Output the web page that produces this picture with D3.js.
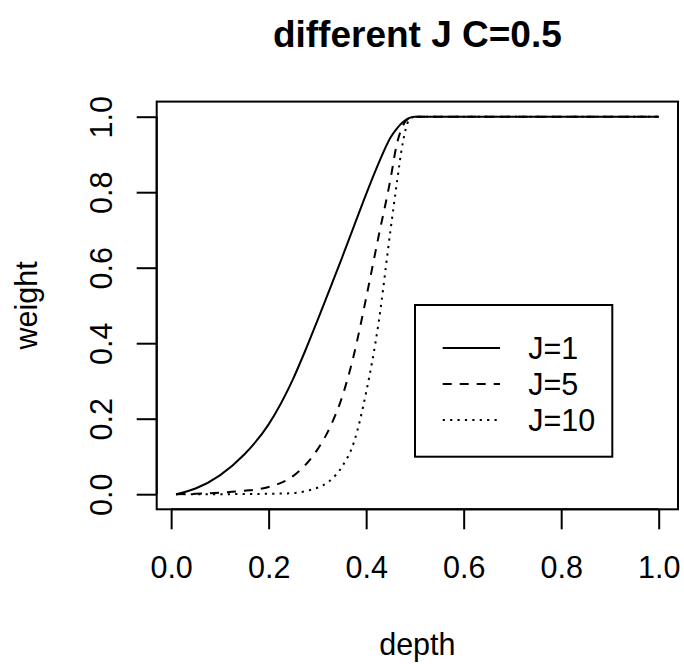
<!DOCTYPE html>
<html>
<head>
<meta charset="utf-8">
<script src="https://cdn.jsdelivr.net/npm/d3@7"></script>
<style>
  body { margin: 0; background: #fff; }
  svg text { font-family: "Liberation Sans", Arial, Helvetica, sans-serif; fill: #000; }
</style>
</head>
<body>
<div id="chart"></div>
<script>
const depth = [0.01, 0.05, 0.1, 0.15, 0.2, 0.25, 0.275, 0.3, 0.325, 0.35, 0.375,
               0.4, 0.425, 0.45, 0.4625, 0.475, 0.4875, 0.5, 0.75, 1.0];
const weightJ1  = [0, 0.015, 0.05, 0.105, 0.185, 0.305, 0.38, 0.46, 0.542, 0.625, 0.71,
                   0.795, 0.875, 0.945, 0.968, 0.985, 0.996, 1, 1, 1];
const weightJ5  = [0, 0.001, 0.004, 0.009, 0.019, 0.048, 0.077, 0.118, 0.175, 0.255, 0.37,
                   0.52, 0.68, 0.835, 0.925, 0.975, 0.996, 1, 1, 1];
const weightJ10 = [0, 0, 0, 0.0005, 0.001, 0.003, 0.008, 0.017, 0.035, 0.072, 0.138,
                   0.27, 0.45, 0.70, 0.82, 0.93, 0.99, 1, 1, 1];
const seriesNames = ['J=1', 'J=5', 'J=10'];
const xTicks = [0, 0.2, 0.4, 0.6, 0.8, 1.0];
const yTicks = [0, 0.2, 0.4, 0.6, 0.8, 1.0];

const width = 684, height = 664;
const plot = {left: 156.7, right: 678, top: 101.6, bottom: 509.3};
const dashes = ['none', '9,8', '2.2,5.2'];
const fontSize = 30.5;

const svg = d3.select('#chart').append('svg')
    .attr('width', width)
    .attr('height', height);

// R-style 4% padding on both axes
const xScale = d3.scaleLinear().domain([-0.0296, 1.0396]).range([plot.left, plot.right]);
const yScale = d3.scaleLinear().domain([-0.04, 1.04]).range([plot.bottom, plot.top]);

const series = [weightJ1, weightJ5, weightJ10].map((w, i) => ({
    name: seriesNames[i],
    dash: dashes[i],
    values: depth.map((d, j) => ({x: d, y: w[j]}))
}));

const line = d3.line()
    .x(d => xScale(d.x))
    .y(d => yScale(d.y))
    .curve(d3.curveMonotoneX);

svg.selectAll('path.curve').data(series).join('path')
    .attr('class', 'curve')
    .attr('d', d => line(d.values))
    .attr('fill', 'none')
    .attr('stroke', '#000')
    .attr('stroke-width', 2)
    .attr('stroke-dasharray', d => d.dash);

// plot box
svg.append('rect')
    .attr('x', plot.left).attr('y', plot.top)
    .attr('width', plot.right - plot.left)
    .attr('height', plot.bottom - plot.top)
    .attr('fill', 'none').attr('stroke', '#000').attr('stroke-width', 2);

// axes
const xAxis = d3.axisBottom(xScale).tickValues(xTicks).tickFormat(d3.format('.1f'))
    .tickSize(20).tickSizeOuter(0);
const yAxis = d3.axisLeft(yScale).tickValues(yTicks).tickFormat(d3.format('.1f'))
    .tickSize(20).tickSizeOuter(0);

const xAxisG = svg.append('g')
    .attr('transform', `translate(0,${plot.bottom})`)
    .call(xAxis);
xAxisG.select('.domain').attr('d', `M${xScale(0)},0H${xScale(1)}`);
xAxisG.selectAll('text')
    .attr('font-size', fontSize)
    .attr('y', 69).attr('dy', null);

const yAxisG = svg.append('g')
    .attr('transform', `translate(${plot.left},0)`)
    .call(yAxis);
yAxisG.select('.domain').attr('d', `M0,${yScale(0)}V${yScale(1)}`);
yAxisG.selectAll('text')
    .attr('font-size', fontSize)
    .attr('x', null).attr('dy', null)
    .attr('text-anchor', 'middle')
    .attr('transform', 'translate(-45,0) rotate(-90)')
    .attr('y', 0);

svg.selectAll('.domain, .tick line').attr('stroke', '#000').attr('stroke-width', 2);
svg.selectAll('g.tick text').attr('fill', '#000');

// titles
svg.append('text')
    .attr('x', (plot.left + plot.right) / 2).attr('y', 47)
    .attr('text-anchor', 'middle')
    .attr('font-size', 37).attr('font-weight', 'bold')
    .text('different J C=0.5');

svg.append('text')
    .attr('x', (plot.left + plot.right) / 2).attr('y', 655)
    .attr('text-anchor', 'middle')
    .attr('font-size', fontSize)
    .text('depth');

svg.append('text')
    .attr('transform', `translate(37,${(plot.top + plot.bottom) / 2}) rotate(-90)`)
    .attr('text-anchor', 'middle')
    .attr('font-size', fontSize)
    .text('weight');

// legend
const legend = svg.append('g');
legend.append('rect')
    .attr('x', 415).attr('y', 305).attr('width', 197.3).attr('height', 151.7)
    .attr('fill', '#fff').attr('stroke', '#000').attr('stroke-width', 2);

const rows = legend.selectAll('g.row').data(series).join('g')
    .attr('class', 'row')
    .attr('transform', (d, i) => `translate(0,${348 + i * 36})`);
rows.append('line')
    .attr('x1', 442.7).attr('x2', 500)
    .attr('stroke', '#000').attr('stroke-width', 2)
    .attr('stroke-dasharray', d => d.dash);
rows.append('text')
    .attr('x', 528.3).attr('dy', '0.36em')
    .attr('font-size', fontSize)
    .text(d => d.name);
</script>
</body>
</html>
